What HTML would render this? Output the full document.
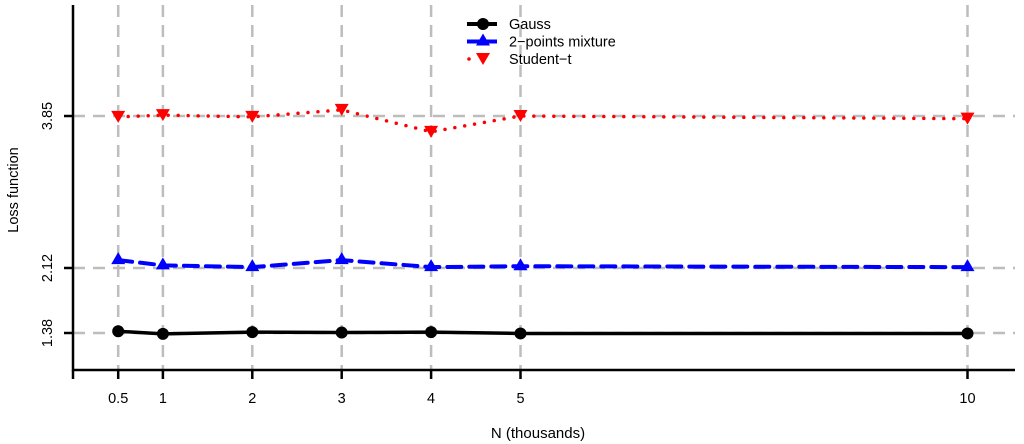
<!DOCTYPE html>
<html><head><meta charset="utf-8"><style>body{margin:0;background:#fff}svg{display:block}text{font-family:"Liberation Sans",sans-serif}</style></head>
<body>
<svg id="c" width="1024" height="444"></svg>
<script>
const xVals=[0.5,1,2,3,4,5,10];
const xTickLabels=["0.5","1","2","3","4","5","10"];
const yTicks=[1.38,2.12,3.85];
const yTickLabels=["1.38","2.12","3.85"];
const gauss=[1.40,1.37,1.39,1.385,1.39,1.375,1.375];
const mixture=[2.21,2.15,2.13,2.21,2.13,2.14,2.13];
const student=[3.84,3.86,3.84,3.92,3.67,3.85,3.82];
const NS="http://www.w3.org/2000/svg";
const svg=document.getElementById('c');
const X=v=>73.5+89.4*v;
const Y=v=>333-(v-1.38)*87.85;
function mk(t,a,p){const e=document.createElementNS(NS,t);for(const k in a)e.setAttribute(k,a[k]);(p||svg).appendChild(e);return e;}
xVals.forEach(v=>{const l=mk('line',{x1:X(v),x2:X(v),y1:5,y2:370,stroke:'#bdbdbd','stroke-width':2.5,'stroke-dasharray':'12,8'});

});
yTicks.forEach(v=>{const l=mk('line',{x1:73,x2:1015,y1:Y(v),y2:Y(v),stroke:'#bdbdbd','stroke-width':2.5,'stroke-dasharray':'12,8'});

});
const ax=mk('path',{d:'M73,5V370H1015',fill:'none',stroke:'#000','stroke-width':2.5});


mk('line',{x1:73,x2:73,y1:370,y2:379,stroke:'#000','stroke-width':2.5});
xVals.forEach((v,i)=>{mk('line',{x1:X(v),x2:X(v),y1:370,y2:379,stroke:'#000','stroke-width':2.5});
const t=mk('text',{x:X(v),y:403,'text-anchor':'middle','font-size':14.5});t.textContent=xTickLabels[i];

});
yTicks.forEach((v,i)=>{mk('line',{x1:64,x2:73,y1:Y(v),y2:Y(v),stroke:'#000','stroke-width':2.5});
const t=mk('text',{x:0,y:0,'text-anchor':'middle','font-size':14.5,transform:`translate(52,${Y(v)}) rotate(-90)`});t.textContent=yTickLabels[i];

});
let t=mk('text',{x:538,y:438,'text-anchor':'middle','font-size':15});t.textContent='N (thousands)';


t=mk('text',{x:0,y:0,'text-anchor':'middle','font-size':14.5,transform:'translate(18,190) rotate(-90)'});t.textContent='Loss function';


function marker(kind,x,y,col,g){
 if(kind==='c')return mk('circle',{cx:x,cy:y,r:6,fill:col},g);
 if(kind==='u')return mk('path',{d:`M${x},${y-8}L${x+7},${y+4}L${x-7},${y+4}Z`,fill:col},g);
 return mk('path',{d:`M${x},${y+6}L${x+7},${y-6}L${x-7},${y-6}Z`,fill:col},g);
}
const series=[{n:'gauss',d:gauss,c:'#000',k:'c',dash:'',w:3.5},{n:'mixture',d:mixture,c:'#0000ff',k:'u',dash:'14,8',w:4},{n:'student',d:student,c:'#ff0000',k:'d',dash:'0,10',w:3.5}];
series.forEach(s=>{const g=mk('g',{});


mk('polyline',{points:s.d.map((v,i)=>X(xVals[i])+','+Y(v)).join(' '),fill:'none',stroke:s.c,'stroke-width':s.w,'stroke-dasharray':s.dash,'stroke-linecap':'round'},g);
s.d.forEach((v,i)=>{const m=marker(s.k,X(xVals[i]),Y(v),s.c,g);

});});
const names=['Gauss','2\u2212points mixture','Student\u2212t'];
series.forEach((s,i)=>{const y=24+i*17.5;const g=mk('g',{});


if(s.k==='d')mk('circle',{cx:469,cy:y,r:1.8,fill:s.c},g);
else mk('line',{x1:467,x2:497,y1:y,y2:y,stroke:s.c,'stroke-width':4},g);
marker(s.k,483,y,s.c,g);
const tt=mk('text',{x:509,y:y+5,'font-size':14.5},g);tt.textContent=names[i];});
</script>
</body></html>
